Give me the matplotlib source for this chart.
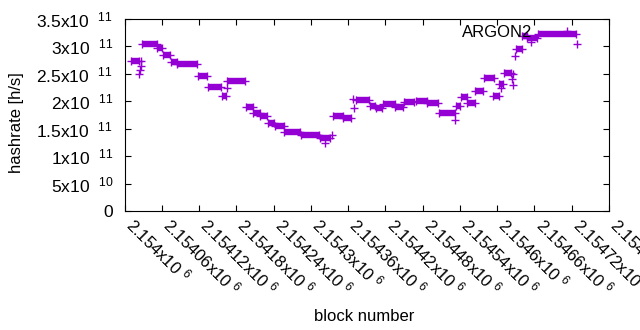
import numpy as np
import matplotlib
matplotlib.use("Agg")
import matplotlib.pyplot as plt
from matplotlib.lines import Line2D
from matplotlib.ticker import FixedLocator

plt.rcParams['font.family'] = ['Liberation Sans', 'DejaVu Sans']
plt.rcParams['mathtext.fontset'] = 'custom'
plt.rcParams['mathtext.rm'] = 'Liberation Sans'
plt.rcParams['mathtext.it'] = 'Liberation Sans:italic'
plt.rcParams['mathtext.bf'] = 'Liberation Sans:bold'
plt.rcParams['mathtext.default'] = 'regular'

# Runs of (nearly) constant hashrate: start block, end block, hashrate (h/s)
seg_start = [2155046, 2156895, 2159228, 2160193, 2161560, 2162526, 2165823, 2167432,
             2169684, 2170569, 2173545, 2174751, 2175877, 2177164, 2178209, 2179738,
             2182472, 2185448, 2187620, 2189228, 2191320, 2193572, 2194456, 2195663,
             2197593, 2198960, 2200971, 2202741, 2204590, 2207325, 2208129, 2209175,
             2210462, 2211829, 2213357, 2214242, 2215046, 2217057, 2218022, 2218827,
             2220516]
seg_end = [2156332, 2159228, 2160032, 2161319, 2162526, 2165662, 2167271, 2169523,
           2170327, 2173464, 2174671, 2175797, 2176923, 2178049, 2179657, 2182311,
           2185368, 2187137, 2189228, 2190515, 2193330, 2194376, 2195502, 2197593,
           2198880, 2200569, 2202741, 2204510, 2207245, 2208049, 2209175, 2210462,
           2211668, 2213518, 2214323, 2214966, 2216172, 2218022, 2218827, 2220436,
           2226709]
seg_val = [2.743e11, 3.039e11, 2.980e11, 2.840e11, 2.716e11, 2.674e11, 2.452e11, 2.267e11,
           2.096e11, 2.364e11, 1.890e11, 1.786e11, 1.732e11, 1.604e11, 1.544e11, 1.444e11,
           1.391e11, 1.331e11, 1.737e11, 1.690e11, 2.027e11, 1.914e11, 1.877e11, 1.945e11,
           1.901e11, 1.992e11, 2.014e11, 1.963e11, 1.792e11, 1.914e11, 2.072e11, 1.974e11,
           2.182e11, 2.419e11, 2.102e11, 2.309e11, 2.524e11, 2.958e11, 3.181e11, 3.159e11,
           3.221e11]

# Isolated samples
pt_block = [2156654, 2156654, 2156574, 2156413, 2170488, 2186333, 2187378, 2190757,
            2190998, 2207132, 2216623, 2216365, 2216623, 2216896, 2214646, 2219421,
            2226789]
pt_val = [2.734e11, 2.643e11, 2.570e11, 2.506e11, 2.251e11, 1.248e11, 1.385e11, 2.041e11,
          1.872e11, 1.659e11, 2.497e11, 2.401e11, 2.297e11, 2.831e11, 2.238e11, 3.086e11,
          3.039e11]

x_ticks = [2154000 + 6000 * i for i in range(14)]
x_tick_labels = ["2.154", "2.15406", "2.15412", "2.15418", "2.15424", "2.1543", "2.15436",
                 "2.15442", "2.15448", "2.15454", "2.1546", "2.15466", "2.15472", "2.15478"]
y_ticks = [0, 5e10, 1e11, 1.5e11, 2e11, 2.5e11, 3e11, 3.5e11]
y_tick_labels = ["0", "5x10  $^{10}$", "1x10  $^{11}$", "1.5x10  $^{11}$", "2x10  $^{11}$",
                 "2.5x10  $^{11}$", "3x10  $^{11}$", "3.5x10  $^{11}$"]

color = '#9400D3'

fig = plt.figure(figsize=(6.4, 3.3), dpi=100)
ax = fig.add_axes([124.5 / 640, 1 - 211 / 330, (609 - 124.5) / 640, 192 / 330])

ax.hlines(seg_val, seg_start, seg_end, colors=color, linewidth=4.6, capstyle='butt')
ax.plot(seg_start, seg_val, '+', color=color, markersize=6, mew=1.0, linestyle='none')
ax.plot(seg_end, seg_val, '+', color=color, markersize=6, mew=1.0, linestyle='none')
ax.plot(pt_block, pt_val, '+', color=color, markersize=6, mew=1.0, linestyle='none')

ax.set_xlim(x_ticks[0], x_ticks[-1])
ax.set_ylim(0, 3.5e11)
ax.xaxis.set_major_locator(FixedLocator(x_ticks))
ax.set_xticklabels([s + "x10 $^{6}$" for s in x_tick_labels])
ax.yaxis.set_major_locator(FixedLocator(y_ticks))
ax.set_yticklabels(y_tick_labels)

for lab in ax.get_xticklabels():
    lab.set_rotation(-45)
    lab.set_ha('left')
    lab.set_va('baseline')
    lab.set_rotation_mode('anchor')

ax.tick_params(direction='in', length=4, width=0.8, top=True, right=True, colors='black')
ax.tick_params(axis='x', pad=11, labelsize=12)
ax.tick_params(axis='y', pad=8, labelsize=12.5)
for sp in ax.spines.values():
    sp.set_linewidth(0.8)

ax.set_xlabel("block number", fontsize=12)
ax.xaxis.set_label_coords(0.494, -0.51)
ax.set_ylabel("hashrate [h/s]", fontsize=12)
ax.yaxis.set_label_coords(-0.208, 0.458)

handle = Line2D([], [], color=color, marker='+', linestyle='none', markersize=6, mew=1.0)
ax.legend([handle], ["ARGON2"], loc='center right', bbox_to_anchor=(0.958, 0.932),
          frameon=False, markerfirst=False, handlelength=2.6, handletextpad=0.8,
          fontsize=12, borderaxespad=0, borderpad=0)

fig.savefig("out.png", dpi=100)
